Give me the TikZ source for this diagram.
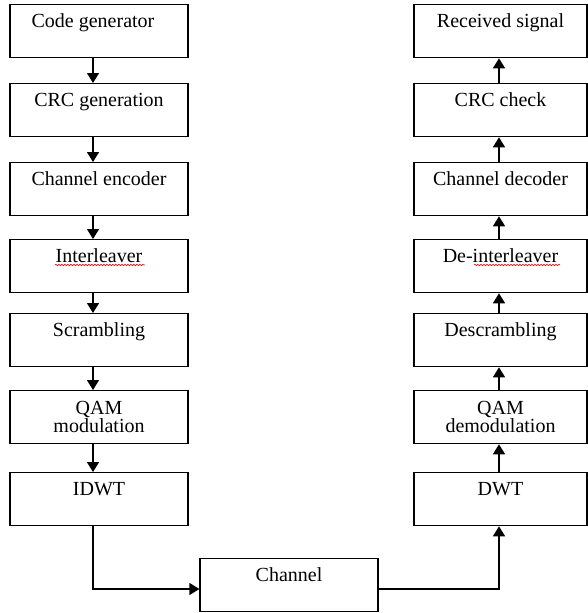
\documentclass[tikz,border=0pt]{standalone}
\usepackage{fontspec}
\setmainfont{Liberation Serif}
\usetikzlibrary{calc,arrows.meta,positioning,decorations.pathmorphing}
\tikzset{
  ar/.style={-{Triangle[length=10pt,width=12pt]},line width=1.4pt},
  blk/.style={draw,line width=1.3pt,anchor=north,minimum width=178pt,inner xsep=0pt,inner ysep=0pt,align=center,text height=23pt,text depth=30pt,font=\fontsize{20}{18}\selectfont},
  rblk/.style={blk,minimum width=173pt},
  twoline/.style={text height=42pt,text depth=11pt},
  squig/.style={red,line width=0.6pt,decorate,decoration={snake,amplitude=0.8pt,segment length=3pt}}
}

\begin{document}
\begin{tikzpicture}[x=1pt,y=-1pt]
\useasboundingbox (0,0) rectangle (588,613);
% transmitter
\node[blk] (gen) at (99,4) {Code generator\hspace*{12pt}};
\node[blk] (crc) at (99,83) {CRC generation};
\node[blk] (enc) at (99,162) {Channel encoder};
\node[blk] (intl) at (99,239) {Interleaver};
\node[blk] (scr) at (99,313) {Scrambling};
\node[blk,twoline] (qam) at (99,390) {QAM\\modulation};
\node[blk] (idwt) at (99,472) {IDWT};
% receiver
\node[rblk] (rx) at (500.5,4) {Received signal};
\node[rblk] (crcc) at (500.5,83) {CRC check};
\node[rblk] (dec) at (500.5,162) {Channel decoder};
\node[rblk] (dintl) at (500.5,239) {De-interleaver};
\node[rblk] (dscr) at (500.5,313) {Descrambling};
\node[rblk,twoline] (qamd) at (500.5,390) {QAM\\demodulation};
\node[rblk] (dwt) at (500.5,472) {DWT};
\node[blk] (ch) at (289,558) {Channel};
% arrows
\foreach \a/\b in {gen/crc,crc/enc,enc/intl,intl/scr,scr/qam,qam/idwt}
  {\draw[ar] ([xshift=-6pt]\a.south) -- ([xshift=-6pt]\b.north);}
\foreach \a/\b in {dwt/qamd,qamd/dscr,dscr/dintl,dintl/dec,dec/crcc,crcc/rx}
  {\draw[ar] ([xshift=-1.5pt]\a.north) -- ([xshift=-1.5pt]\b.south);}
\draw[ar] ([xshift=-6pt]idwt.south) |- ($(ch.north west)+(0,31)$);
\draw[ar] ($(ch.north east)+(0,31)$) -| ([xshift=-1.5pt]dwt.south);
% spell check marks
\draw[squig] ($(intl.north)+(-44,26)$) -- ($(intl.north)+(46,26)$);
\draw[squig] ($(dintl.north)+(-26.5,26)$) -- ($(dintl.north)+(59.5,26)$);
\end{tikzpicture}
\end{document}
